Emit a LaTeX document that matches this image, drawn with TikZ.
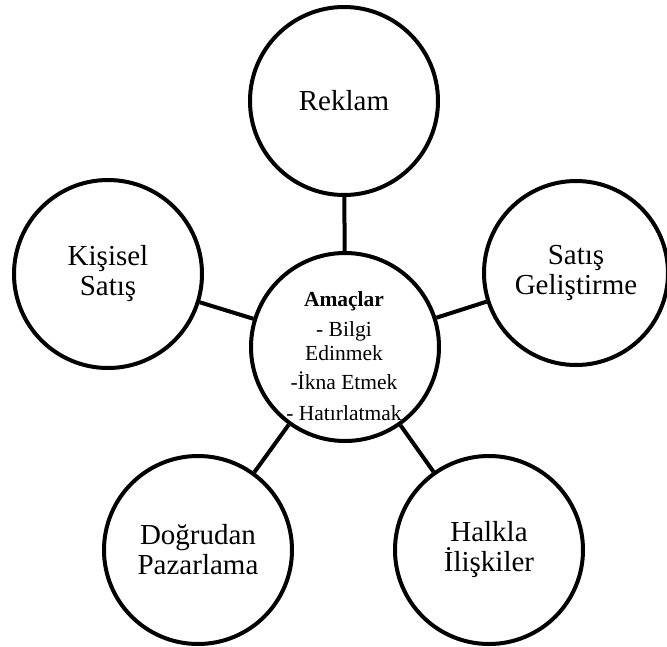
\documentclass[tikz,border=0pt]{standalone}
\usepackage{fontspec}
\setmainfont{Liberation Serif}
\begin{document}
\begin{tikzpicture}[x=1pt,y=-1pt,
  ring/.style={circle,draw=black,line width=4pt,minimum size=188pt,inner sep=0pt,
    align=center,font=\fontsize{29}{30}\selectfont},
  link/.style={line width=4pt}]
\useasboundingbox (0,0) rectangle (667,646);
% hub and the five surrounding circles
\node[ring] (hub) at (345,347) {};
\node[align=center,font=\fontsize{21.5}{23.5}\selectfont] (hubtext) at (344,356)
  {\textbf{Amaçlar}\\[6.5pt] - Bilgi\\ Edinmek\\[5.5pt] -İkna Etmek\\[7.5pt] - Hatırlatmak};
\node[ring] (reklam) at (344,101) {Reklam};
\node[ring] (kisisel) at (108,274) {Kişisel\\ Satış};
\node[ring,minimum size=184pt] (satis) at (576,273) {Satış\\ Geliştirme};
\node[ring] (dogrudan) at (198,550) {Doğrudan\\ Pazarlama};
\node[ring] (halkla) at (489,550) {Halkla\\ İlişkiler};
% spokes
\draw[link] (hub) -- (reklam);
\draw[link] (hub) -- (kisisel);
\draw[link] (hub) -- (satis);
\draw[link] (hub) -- (dogrudan);
\draw[link] (hub) -- (halkla);
\end{tikzpicture}
\end{document}
